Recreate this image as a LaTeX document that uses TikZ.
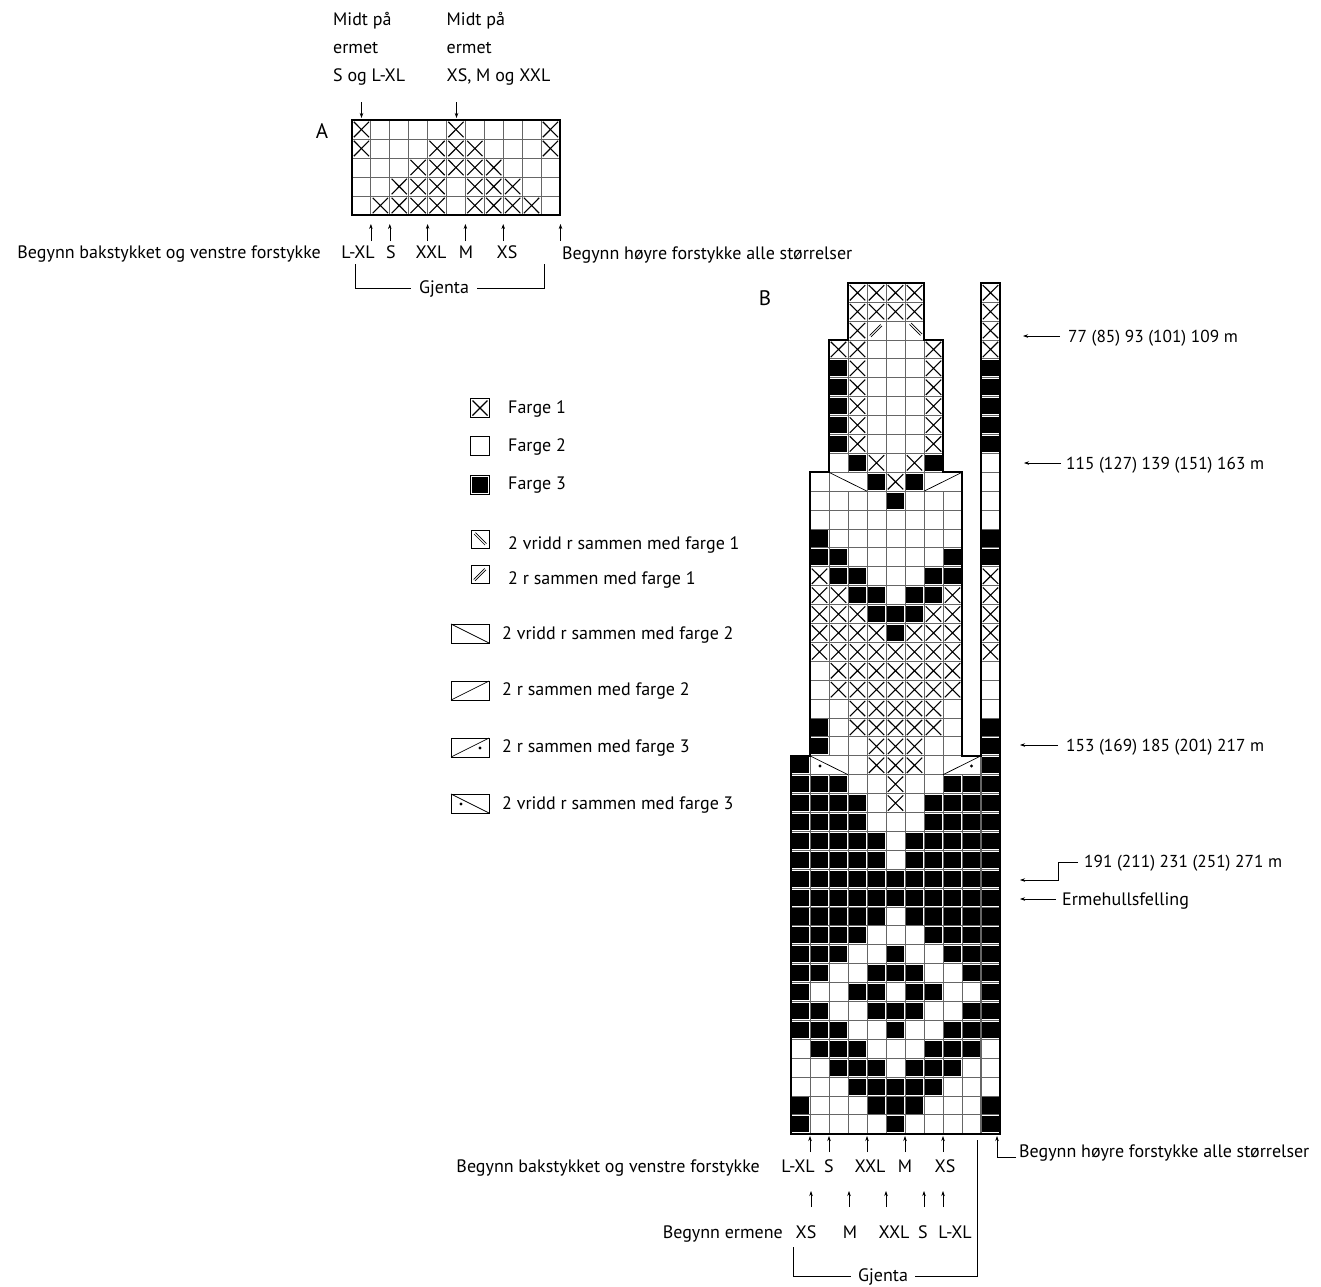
\documentclass[tikz,border=0pt]{standalone}
\usepackage{fontspec}
\setmainfont{PT Sans}
\usetikzlibrary{arrows.meta}
\newcommand\kcell[5]{%
  \ifnum#3>0 \draw[gridln] (#1,#2) rectangle ++(#4,#5);\fi
  \ifnum#3=2 \fill[black] ({#1+1.4},{#2+1.4}) rectangle ++({#4-2.8},{#5-2.8});\fi
  \ifnum#3=3 \draw[xl] ({#1+1.8},{#2+1.8}) -- ({#1+#4-1.8},{#2+#5-1.8}) ({#1+#4-1.8},{#2+1.8}) -- ({#1+1.8},{#2+#5-1.8});\fi}
\begin{document}
\begin{tikzpicture}[x=1pt,y=-1pt,
  gridln/.style={draw=black!60,line width=0.9pt},
  outline/.style={draw=black,line width=2pt},
  legbox/.style={draw=black,line width=0.9pt},
  xl/.style={line width=1.1pt},
  thinl/.style={line width=0.7pt},
  lbl/.style={inner sep=0pt,text height=12pt,text depth=0pt,font=\fontsize{18}{21}\selectfont},
  num/.style={inner sep=0pt,text height=12pt,text depth=0pt,font=\fontsize{17.3}{21}\selectfont},
  big/.style={inner sep=0pt,font=\fontsize{21}{25}\selectfont},
  arr/.style={-{Stealth[length=5pt,width=3.5pt]},line width=0.6pt},
  br/.style={line width=0.7pt}]
\useasboundingbox[fill=white] (0,0) rectangle (1321,1286);

% ---------------- Chart A ----------------
\foreach \row [count=\t] in {{3,1,1,1,1,3,1,1,1,1,3},{3,1,1,1,3,3,3,1,1,1,3},{1,1,1,3,3,3,3,3,1,1,1},{1,1,3,3,3,1,3,3,3,1,1},{1,3,3,3,3,1,3,3,3,3,1}} {
  \pgfmathsetmacro\yy{120+(\t-1)*19}
  \foreach \c [count=\i] in \row {
    \pgfmathsetmacro\xx{352+(\i-1)*18.9}
    \kcell{\xx}{\yy}{\c}{18.9}{19}
  }
}
\draw[outline] (352,120) rectangle (560,215);
\node[big] (labA) at (322,131) {A};

\node[lbl,anchor=west] (ta1) at (333,19) {Midt på};
\node[lbl,anchor=west] (ta2) at (333,47) {ermet};
\node[lbl,anchor=west] (ta3) at (333,75) {S og L-XL};
\node[lbl,anchor=west] (tb1) at (446.5,19) {Midt på};
\node[lbl,anchor=west] (tb2) at (446.5,47) {ermet};
\node[lbl,anchor=west] (tb3) at (446.5,75) {XS, M og XXL};
\coordinate (dA1) at (361.5,118);
\coordinate (dA2) at (456.5,118);
\draw[arr] (361.5,102) -- (dA1);
\draw[arr] (456.5,102) -- (dA2);

\foreach \xa/\nm in {370.9/a1,389.8/a2,427.6/a3,465.4/a4,503.2/a5,560.5/a6} {
  \coordinate (uA\nm) at (\xa,224);
  \draw[arr] (\xa,241) -- (uA\nm);
}
\node[lbl,anchor=east] (begA) at (321,252) {Begynn bakstykket og venstre forstykke};
\node[lbl] (sA1) at (358,252) {L-XL};
\node[lbl] (sA2) at (391,252) {S};
\node[lbl] (sA3) at (431,252) {XXL};
\node[lbl] (sA4) at (466,252) {M};
\node[lbl] (sA5) at (507,252) {XS};
\node[lbl,anchor=west] (hoyA) at (562,253) {Begynn høyre forstykke alle størrelser};
\node[lbl] (gjA) at (444,287) {Gjenta};
\draw[br] (gjA.west) ++(-8,1) -- (355,288) -- (355,264);
\draw[br] (gjA.east) ++(8,1) -- (544,288) -- (544,264);

% ---------------- Legend ----------------
\draw[legbox] (470.5,398.5) rectangle ++(19,19);
\draw[xl] (472.5,400.5) -- (487.5,415.5) (487.5,400.5) -- (472.5,415.5);
\draw[legbox] (470.5,436.5) rectangle ++(19,19);
\draw[legbox] (470.5,475.5) rectangle ++(19,19);
\fill[black] (472,477) rectangle ++(16,16);
\draw[legbox] (471,530) rectangle ++(18,18);
\draw[thinl] (474,534) -- (485,545) (475.4,532.6) -- (486.4,543.6);
\draw[legbox] (471,565) rectangle ++(18,18);
\draw[thinl] (473.6,579.4) -- (484.6,568.4) (475,580.8) -- (486,569.8);
\draw[legbox] (451,624) rectangle (489,643);
\draw[thinl] (451,624) -- (489,643);
\draw[legbox] (451,681) rectangle (489,700);
\draw[thinl] (451,700) -- (489,681);
\draw[legbox] (451,738) rectangle (489,757);
\draw[thinl] (451,757) -- (489,738);
\fill (480,748) circle (1.7pt);
\draw[legbox] (451,794) rectangle (489,813);
\draw[thinl] (451,794) -- (489,813);
\fill (461,804) circle (1.7pt);

\node[lbl,anchor=west] (lg1) at (508,407) {Farge 1};
\node[lbl,anchor=west] (lg2) at (508,445) {Farge 2};
\node[lbl,anchor=west] (lg3) at (508,483) {Farge 3};
\node[lbl,anchor=west] (lg4) at (508,543) {2 vridd r sammen med farge 1};
\node[lbl,anchor=west] (lg5) at (508,578) {2 r sammen med farge 1};
\node[lbl,anchor=west] (lg6) at (502,633) {2 vridd r sammen med farge 2};
\node[lbl,anchor=west] (lg7) at (502,689) {2 r sammen med farge 2};
\node[lbl,anchor=west] (lg8) at (502,746) {2 r sammen med farge 3};
\node[lbl,anchor=west] (lg9) at (502,803) {2 vridd r sammen med farge 3};

% ---------------- Chart B ----------------
\foreach \row [count=\t] in {
{0,0,0,3,3,3,3,0,0,0,3},
{0,0,0,3,3,3,3,0,0,0,3},
{0,0,0,3,1,1,1,0,0,0,3},
{0,0,3,3,1,1,1,3,0,0,3},
{0,0,2,3,1,1,1,3,0,0,2},
{0,0,2,3,1,1,1,3,0,0,2},
{0,0,2,3,1,1,1,3,0,0,2},
{0,0,2,3,1,1,1,3,0,0,2},
{0,0,2,3,1,1,1,3,0,0,2},
{0,0,1,2,3,1,3,2,0,0,1},
{0,1,0,0,2,3,2,0,0,0,1},
{0,1,1,1,1,2,1,1,1,0,1},
{0,1,1,1,1,1,1,1,1,0,1},
{0,2,1,1,1,1,1,1,1,0,2},
{0,2,2,1,1,1,1,1,2,0,2},
{0,3,2,2,1,1,1,2,2,0,3},
{0,3,3,2,2,1,2,2,3,0,3},
{0,3,3,3,2,2,2,3,3,0,3},
{0,3,3,3,3,2,3,3,3,0,3},
{0,3,3,3,3,3,3,3,3,0,3},
{0,1,3,3,3,3,3,3,3,0,1},
{0,1,3,3,3,3,3,3,3,0,1},
{0,1,1,3,3,3,3,3,1,0,1},
{0,2,1,3,3,3,3,3,1,0,2},
{0,2,1,1,3,3,3,1,1,0,2},
{2,0,0,1,3,3,3,1,0,0,2},
{2,2,2,1,1,3,1,1,2,2,2},
{2,2,2,2,1,3,1,2,2,2,2},
{2,2,2,2,1,1,1,2,2,2,2},
{2,2,2,2,2,1,2,2,2,2,2},
{2,2,2,2,2,1,2,2,2,2,2},
{2,2,2,2,2,2,2,2,2,2,2},
{2,2,2,2,2,2,2,2,2,2,2},
{2,2,2,2,2,1,2,2,2,2,2},
{2,2,2,2,1,1,1,2,2,2,2},
{2,2,2,1,1,2,1,1,2,2,2},
{2,2,1,1,2,2,2,1,1,2,2},
{2,1,1,2,2,1,2,2,1,1,2},
{2,2,1,1,2,2,2,1,1,2,2},
{2,2,2,1,1,2,1,1,2,2,2},
{1,2,2,2,1,1,1,2,2,2,1},
{1,1,2,2,2,1,2,2,2,1,1},
{1,1,1,2,2,2,2,2,1,1,1},
{2,1,1,1,2,2,2,1,1,1,2},
{2,1,1,1,1,2,1,1,1,1,2}} {
  \pgfmathsetmacro\yy{283.3+(\t-1)*18.9}
  \foreach \c [count=\i] in \row {
    \pgfmathsetmacro\xx{791+(\i-1)*19}
    \kcell{\xx}{\yy}{\c}{19}{18.9}
  }
}
% special stitches
\draw[thinl] (869.6,335.4) -- (880.6,324.4) (871,336.8) -- (882,325.8);
\draw[thinl] (909.5,324.4) -- (920.5,335.4) (911,323) -- (922,334);
\draw[gridln] (829,472.3) rectangle (867,491.2);
\draw[thinl] (829,472.3) -- (867,491.2);
\draw[gridln] (924,472.3) rectangle (962,491.2);
\draw[thinl] (924,491.2) -- (962,472.3);
\draw[gridln] (810,755.8) rectangle (848,774.7);
\draw[thinl] (810,755.8) -- (848,774.7);
\fill (820,766) circle (1.7pt);
\draw[gridln] (943,755.8) rectangle (981,774.7);
\draw[thinl] (943,774.7) -- (981,755.8);
\fill (971.5,766) circle (1.7pt);
\draw[draw=black!60,line width=1.6pt] (981,755.8) -- (981,1133.8);
\draw[outline] (791,1133.8) -- (791,755.8) -- (810,755.8) -- (810,472.3) -- (829,472.3) -- (829,340) -- (848,340) -- (848,283.3) -- (924,283.3) -- (924,340) -- (943,340) -- (943,472.3) -- (962,472.3) -- (962,755.8) -- (981,755.8) -- (981,283.3) -- (1000,283.3) -- (1000,1133.8) -- cycle;
\node[big] (labB) at (765,298) {B};

% right labels
\node[num,anchor=west] (r1) at (1068,336) {77 (85) 93 (101) 109 m};
\node[num,anchor=west] (r2) at (1066,463) {115 (127) 139 (151) 163 m};
\node[num,anchor=west] (r3) at (1066,745) {153 (169) 185 (201) 217 m};
\node[num,anchor=west] (r4) at (1084,861) {191 (211) 231 (251) 271 m};
\node[lbl,anchor=west] (r5) at (1062,899) {Ermehullsfelling};
\coordinate (p1) at (1023,336);
\coordinate (p2) at (1024,463);
\coordinate (p3) at (1020,745);
\coordinate (p4) at (1020,880);
\coordinate (p5) at (1020,899);
\draw[arr] (1060,336) -- (p1);
\draw[arr] (1061,463) -- (p2);
\draw[arr] (1058,745) -- (p3);
\draw[arr] (1078,862) -- (1058,862) -- (1058,880) -- (p4);
\draw[arr] (1056,899) -- (p5);

% bottom labels
\foreach \xa/\nm in {810/b1,829/b2,867/b3,905/b4,943/b5} {
  \coordinate (uB\nm) at (\xa,1136);
  \draw[arr] (\xa,1152) -- (uB\nm);
}
\coordinate (uBr) at (997,1136);
\draw[arr] (1016,1157) -- (997,1157) -- (uBr);
\node[lbl,anchor=west] (hoyB) at (1019,1151) {Begynn høyre forstykke alle størrelser};
\node[lbl,anchor=east] (begB) at (760,1166) {Begynn bakstykket og venstre forstykke};
\node[lbl] (sB1) at (798,1166) {L-XL};
\node[lbl] (sB2) at (829,1166) {S};
\node[lbl] (sB3) at (870,1166) {XXL};
\node[lbl] (sB4) at (905,1166) {M};
\node[lbl] (sB5) at (945,1166) {XS};
\foreach \xa/\nm in {811/e1,849/e2,886/e3,924/e4,943/e5} {
  \coordinate (uE\nm) at (\xa,1191);
  \draw[arr] (\xa,1207) -- (uE\nm);
}
\node[lbl,anchor=east] (ermB) at (783,1232) {Begynn ermene};
\node[lbl] (eB1) at (806,1232) {XS};
\node[lbl] (eB2) at (850,1232) {M};
\node[lbl] (eB3) at (894,1232) {XXL};
\node[lbl] (eB4) at (923,1232) {S};
\node[lbl] (eB5) at (955,1232) {L-XL};
\node[lbl] (gjB) at (883,1275) {Gjenta};
\draw[br] (gjB.west) ++(-7,1) -- (793,1276) -- (793,1247);
\draw[br] (gjB.east) ++(7,1) -- (977,1276) -- (977,1140);
\end{tikzpicture}
\end{document}
